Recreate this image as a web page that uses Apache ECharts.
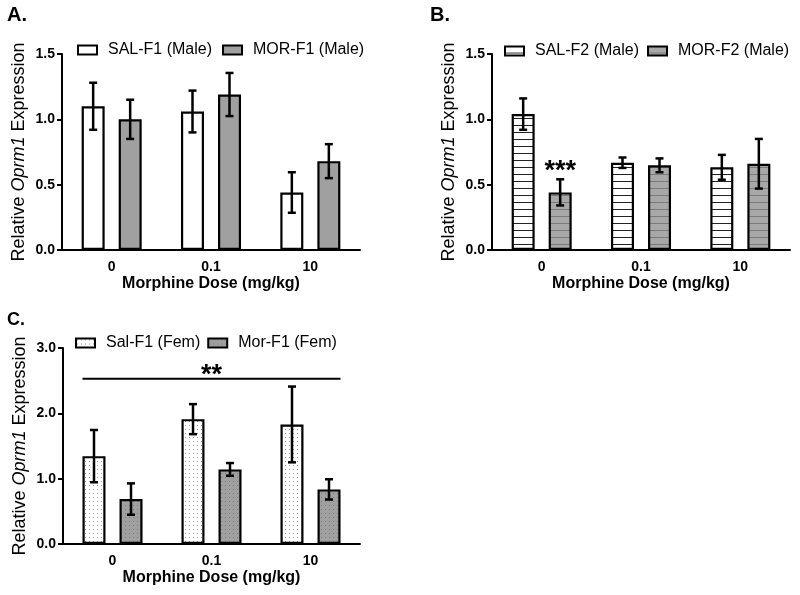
<!DOCTYPE html>
<html>
<head>
<meta charset="utf-8">
<script src="https://cdn.jsdelivr.net/npm/echarts@6/dist/echarts.min.js"></script>
<style>
html,body{margin:0;padding:0;background:#fff;}
#chart{width:800px;height:595px;}
</style>
</head>
<body>
<div id="chart"></div>
<script>
// ---------- data ----------
const categories = ['0', '0.1', '10'];

const salF1MaleMean = [1.10, 1.06, 0.44];
const salF1MaleErr  = [0.18, 0.16, 0.155];
const morF1MaleMean = [1.00, 1.19, 0.68];
const morF1MaleErr  = [0.15, 0.165, 0.13];

const salF2MaleMean = [1.04, 0.668, 0.633];
const salF2MaleErr  = [0.12, 0.04, 0.095];
const morF2MaleMean = [0.441, 0.648, 0.66];
const morF2MaleErr  = [0.10, 0.053, 0.19];

const salF1FemMean = [1.345, 1.911, 1.83];
const salF1FemErr  = [0.40, 0.23, 0.58];
const morF1FemMean = [0.688, 1.142, 0.836];
const morF1FemErr  = [0.24, 0.097, 0.155];

const yTicksMale = {min: 0, max: 1.5, interval: 0.5};
const yTicksFem  = {min: 0, max: 3.0, interval: 1.0};

const seriesNames = {
  a: ['SAL-F1 (Male)', 'MOR-F1 (Male)'],
  b: ['SAL-F2 (Male)', 'MOR-F2 (Male)'],
  c: ['Sal-F1 (Fem)', 'Mor-F1 (Fem)']
};
const panelLabels = ['A.', 'B.', 'C.'];
const xTitle = 'Morphine Dose (mg/kg)';

// significance annotations
const sigB = {category: 0, seriesIdx: 1, value: 0.60, text: '***'};
const sigC = {fromCategory: 0, toCategory: 2, value: 2.53, text: '**'};

// ---------- styling helpers ----------
const FONT = 'Arial, "Liberation Sans", sans-serif';
const BAR_W = 23, BAR_GAP = 14;
const OFF = (BAR_W + BAR_GAP) / 2;

function stripePattern(bg, line) {
  const c = document.createElement('canvas');
  c.width = 8; c.height = 7;
  const g = c.getContext('2d');
  g.fillStyle = bg; g.fillRect(0, 0, 8, 7);
  g.fillStyle = line; g.fillRect(0, 6, 8, 1.3);
  return {image: c, repeat: 'repeat'};
}
function dotPattern(bg, dot) {
  const c = document.createElement('canvas');
  c.width = 4; c.height = 4;
  const g = c.getContext('2d');
  g.fillStyle = bg; g.fillRect(0, 0, 4, 4);
  g.fillStyle = dot; g.fillRect(1, 1, 1, 1);
  return {image: c, repeat: 'repeat'};
}

const fills = {
  a: ['#ffffff', '#a0a0a0'],
  b: [stripePattern('#ffffff', '#222222'), stripePattern('#a8a8a8', '#7a7a7a')],
  c: [dotPattern('#ffffff', '#9a9a9a'), dotPattern('#a0a0a0', '#7c7c7c')]
};

function errRender(off) {
  return function (params, api) {
    const ci = api.value(0);
    const lo = api.coord([ci, api.value(1)]);
    const hi = api.coord([ci, api.value(2)]);
    const x = lo[0] + off;
    const st = {stroke: '#000', lineWidth: 2.5};
    return {
      type: 'group',
      children: [
        {type: 'line', shape: {x1: x, y1: lo[1], x2: x, y2: hi[1]}, style: st},
        {type: 'line', shape: {x1: x - 4, y1: lo[1], x2: x + 4, y2: lo[1]}, style: st},
        {type: 'line', shape: {x1: x - 4, y1: hi[1], x2: x + 4, y2: hi[1]}, style: st}
      ]
    };
  };
}

function panelSeries(k, key, means, errs) {
  const out = [];
  for (let s = 0; s < 2; s++) {
    out.push({
      type: 'bar', name: seriesNames[key][s], xAxisIndex: k, yAxisIndex: k,
      data: means[s], barWidth: BAR_W, barGap: (BAR_GAP / BAR_W * 100).toFixed(0) + '%',
      itemStyle: {color: fills[key][s], borderColor: '#000', borderWidth: 2.2},
      z: 2
    });
  }
  for (let s = 0; s < 2; s++) {
    out.push({
      type: 'custom', xAxisIndex: k, yAxisIndex: k, z: 5,
      data: means[s].map((m, i) => [i, m - errs[s][i], m + errs[s][i]]),
      renderItem: errRender(s === 0 ? -OFF : OFF)
    });
  }
  return out;
}

const series = [
  ...panelSeries(0, 'a', [salF1MaleMean, morF1MaleMean], [salF1MaleErr, morF1MaleErr]),
  ...panelSeries(1, 'b', [salF2MaleMean, morF2MaleMean], [salF2MaleErr, morF2MaleErr]),
  ...panelSeries(2, 'c', [salF1FemMean, morF1FemMean], [salF1FemErr, morF1FemErr]),
  {
    type: 'custom', xAxisIndex: 1, yAxisIndex: 1, z: 6,
    data: [[sigB.category, sigB.value]],
    renderItem: function (params, api) {
      const p = api.coord([api.value(0), api.value(1)]);
      return {type: 'text', x: p[0] + (sigB.seriesIdx ? OFF : -OFF), y: p[1],
        style: {text: sigB.text, fontSize: 27, fontWeight: 'bold', fontFamily: FONT,
          align: 'center', verticalAlign: 'middle', fill: '#000'}};
    }
  },
  {
    type: 'custom', xAxisIndex: 2, yAxisIndex: 2, z: 6,
    data: [[sigC.fromCategory, sigC.toCategory, sigC.value]],
    renderItem: function (params, api) {
      const p1 = api.coord([api.value(0), api.value(2)]);
      const p2 = api.coord([api.value(1), api.value(2)]);
      const x1 = p1[0] - OFF - BAR_W / 2, x2 = p2[0] + OFF + BAR_W / 2;
      return {type: 'group', children: [
        {type: 'line', shape: {x1: x1, y1: p1[1], x2: x2, y2: p1[1]}, style: {stroke: '#000', lineWidth: 2}},
        {type: 'text', x: (x1 + x2) / 2, y: p1[1] + 10,
          style: {text: sigC.text, fontSize: 27, fontWeight: 'bold', fontFamily: FONT,
            align: 'center', verticalAlign: 'bottom', fill: '#000'}}
      ]};
    }
  }
];

const grids = [
  {left: 62, top: 54, width: 298, height: 196},
  {left: 492, top: 54, width: 298, height: 196},
  {left: 63, top: 348, width: 297, height: 196}
];

const xAxis = [0, 1, 2].map(i => ({
  type: 'category', gridIndex: i, data: categories,
  axisLine: {lineStyle: {color: '#000', width: 2}},
  axisTick: {alignWithLabel: true, length: 5, lineStyle: {color: '#000', width: 2}},
  axisLabel: {color: '#000', fontWeight: 'bold', fontSize: 14, margin: 10, fontFamily: FONT},
  name: xTitle, nameLocation: 'middle', nameGap: 26,
  nameTextStyle: {fontWeight: 'bold', fontSize: 16, color: '#000', fontFamily: FONT}
}));

const yAxis = [yTicksMale, yTicksMale, yTicksFem].map((t, i) => ({
  type: 'value', gridIndex: i, min: t.min, max: t.max, interval: t.interval,
  axisLine: {show: true, lineStyle: {color: '#000', width: 2}},
  axisTick: {show: true, length: 5, lineStyle: {color: '#000', width: 2}},
  splitLine: {show: false},
  axisLabel: {color: '#000', fontWeight: 'bold', fontSize: 14, margin: 7, fontFamily: FONT,
    formatter: v => v.toFixed(1)},
  name: '{n|Relative }{i|Oprm1}{n| Expression}', nameLocation: 'middle', nameGap: 34,
  nameTextStyle: {fontSize: 18, color: '#000', fontFamily: FONT,
    rich: {n: {fontSize: 18, color: '#000', fontFamily: FONT},
           i: {fontSize: 18, color: '#000', fontStyle: 'italic', fontFamily: FONT}}}
}));

function legendCfg(key, left, top, gap) {
  return {
    data: seriesNames[key], left: left, top: top, itemWidth: 19, itemHeight: 9, itemGap: gap,
    selectedMode: false, icon: 'rect', padding: 0,
    itemStyle: {borderColor: '#000', borderWidth: 2},
    textStyle: {fontSize: 16, color: '#000', fontFamily: FONT, padding: [0, 0, 0, 6]}
  };
}

const option = {
  animation: false,
  backgroundColor: '#fff',
  textStyle: {fontFamily: FONT},
  grid: grids,
  xAxis: xAxis,
  yAxis: yAxis,
  legend: [legendCfg('a', 77, 42, 10), legendCfg('b', 504, 43, 8), legendCfg('c', 75, 335, 7)],
  graphic: [
    {type: 'text', left: 7, top: 5, style: {text: panelLabels[0], fontSize: 20, fontWeight: 'bold', fill: '#000', fontFamily: FONT}},
    {type: 'text', left: 430, top: 5, style: {text: panelLabels[1], fontSize: 20, fontWeight: 'bold', fill: '#000', fontFamily: FONT}},
    {type: 'text', left: 7, top: 311, style: {text: panelLabels[2], fontSize: 18, fontWeight: 'bold', fill: '#000', fontFamily: FONT}}
  ],
  series: series
};

const chart = echarts.init(document.getElementById('chart'), null, {renderer: 'canvas'});
chart.setOption(option);
</script>
</body>
</html>
